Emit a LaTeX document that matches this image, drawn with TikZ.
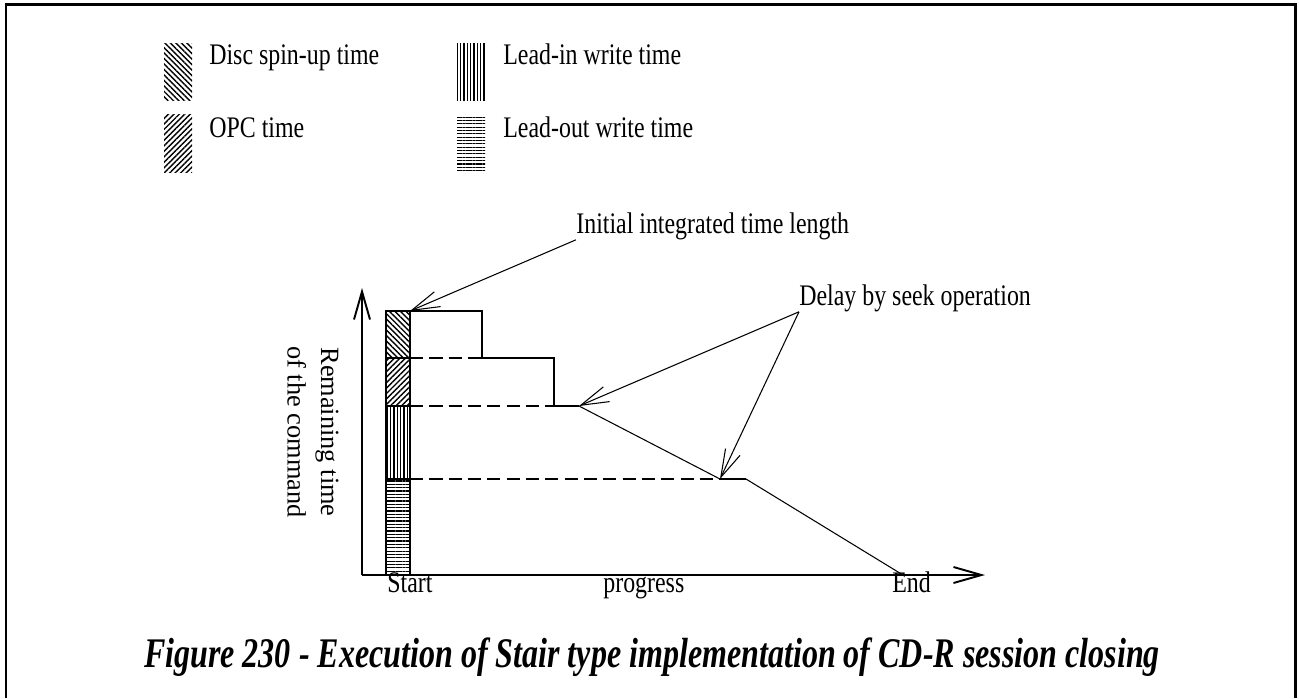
\documentclass[tikz,border=0pt]{standalone}
\usepackage{fontspec}
\setmainfont{Liberation Serif}
\newfontfamily\narrowserif[FakeStretch=0.8]{Liberation Serif}
\newfontfamily\captionserif[FakeStretch=0.76]{Liberation Serif}
\usetikzlibrary{patterns.meta,arrows.meta}

\begin{document}
\begin{tikzpicture}[x=0.02cm, y=-0.02cm,
  >={Straight Barb[length=0.56cm,width=0.32cm]},
  txt/.style={inner sep=0pt, font=\narrowserif\fontsize{17}{19}\selectfont},
  spinup/.style={pattern={Lines[angle=-45,distance=2.2pt,line width=0.8pt]}},
  opcfill/.style={pattern={Lines[angle=45,distance=2.2pt,line width=0.8pt]}},
  leadinfill/.style={pattern={Lines[angle=90,distance=1.9pt,line width=0.7pt]}},
  leadoutfill/.style={pattern={Lines[angle=0,distance=1.9pt,line width=0.7pt]}},
  heavy/.style={line width=1.1pt},
  thin/.style={line width=0.6pt},
  guide/.style={line width=1.1pt, dash pattern=on 7.5pt off 3.5pt}]
\useasboundingbox (0,0) rectangle (1299,698);

% frame
\draw[line width=1.7pt] (6,698) -- (6,4) -- (1295,4) -- (1295,698);

% legend
\fill[spinup] (164,43) rectangle (192,100);
\fill[opcfill] (164,114) rectangle (192,172);
\fill[leadinfill] (457,43) rectangle (485,100);
\fill[leadoutfill] (457,114) rectangle (485,172);
\node[txt, anchor=base west] (spinuptxt) at (209,64) {Disc spin-up time};
\node[txt, anchor=base west] (opctxt) at (209,137) {OPC time};
\node[txt, anchor=base west] (leadintxt) at (503,64) {Lead-in write time};
\node[txt, anchor=base west] (leadouttxt) at (503,137) {Lead-out write time};

% axes
\coordinate (origin) at (362,575);
\coordinate (ytip) at (362,288);
\coordinate (xtip) at (985,575);
\draw[heavy,->] (origin) -- (ytip);
\draw[heavy,->] (origin) -- (xtip);

% time bar
\fill[spinup] (386,311) rectangle (410,358);
\fill[opcfill] (386,358) rectangle (410,406);
\fill[leadinfill] (386,406) rectangle (410,479);
\fill[leadoutfill] (386,479) rectangle (410,575);
\draw[heavy] (386,311) rectangle (410,575);
\draw[heavy] (386,358) -- (410,358);
\draw[heavy] (386,406) -- (410,406);
\draw[heavy] (386,479) -- (410,479);

% stair
\coordinate (top) at (410,311);
\coordinate (seekA) at (579,406);
\coordinate (seekB) at (720,479);
\coordinate (fin) at (903,575);
\draw[heavy] (top) -- (482,311) -- (482,358) -- (554,358) -- (554,406) -- (seekA);
\draw[thin] (seekA) -- (seekB);
\draw[heavy] (seekB) -- (746,479);
\draw[thin] (746,479) -- (fin);
\draw[guide] (410,358) -- (482,358);
\draw[guide] (410,406) -- (554,406);
\draw[guide] (410,479) -- (seekB);

% labels
\node[txt, anchor=base west] (start) at (387,592) {Start};
\node[txt, anchor=base west] (prog) at (603,592) {progress};
\node[txt, anchor=base west] (end) at (892,592) {End};
\node[inner sep=0pt, font=\fontsize{15}{19}\selectfont, rotate=-90, align=center] (remain) at (313,432)
  {Remaining time\\of the command};

% annotations
\node[txt, anchor=base west] (init) at (576,233) {Initial integrated time length};
\node[txt, anchor=base west] (delay) at (799,305) {Delay by seek operation};
\draw[thin,->] (init.south west) -- (top);
\draw[thin,->] (delay.south west) -- (seekA);
\draw[thin,->] (delay.south west) -- (seekB);

% caption
\node[font=\captionserif\fontsize{24}{28}\selectfont\bfseries\itshape] (caption) at (652,657)
  {Figure 230 - Execution of Stair type implementation of CD-R session closing};
\end{tikzpicture}
\end{document}
